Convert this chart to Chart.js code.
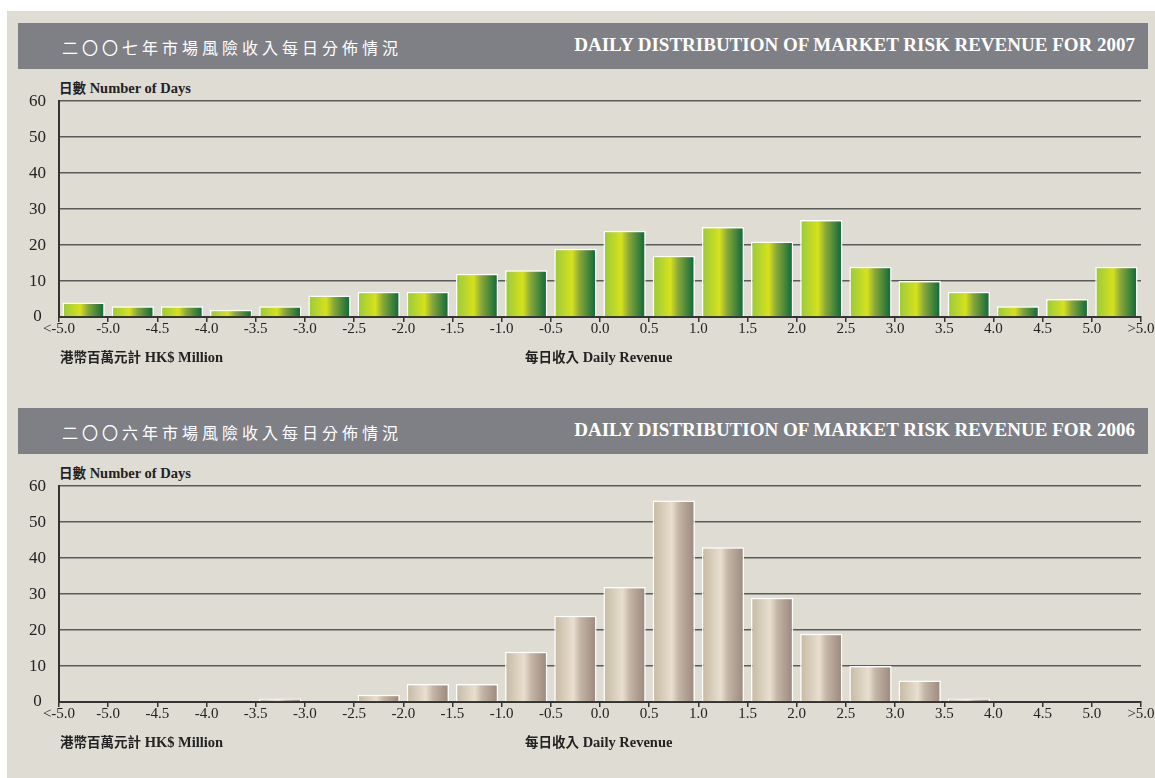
<!DOCTYPE html>
<html>
<head>
<meta charset="utf-8">
<script src="https://cdn.jsdelivr.net/npm/chart.js@4"></script>
<style>
  html, body { margin: 0; padding: 0; background: #fff; }
  body { width: 1155px; height: 778px; position: relative; overflow: hidden; }
  #panel { position: absolute; left: 7px; top: 11px; right: 0; bottom: 0; background: #dfdcd4; }
  .bar { position: absolute; left: 18px; width: 1130px; height: 46px; background: #7f8086; }
  .zh { position: absolute; left: 44px; top: 12px; color: #fff; font: 16px "Noto Sans CJK TC", sans-serif; letter-spacing: 4px; }
  .en { position: absolute; right: 13px; top: 11px; color: #fff; font: bold 19px "Liberation Serif", serif; }
  .lbl { position: absolute; color: #222; font: bold 14.5px "Liberation Serif", serif; white-space: nowrap; line-height: 17px; }
  .lbl span { font-family: "Noto Sans CJK TC", sans-serif; font-weight: bold; font-size: 13.5px; }
  .wrap { position: absolute; left: 0; width: 1155px; height: 265px; }
</style>
</head>
<body>
<div id="panel"></div>

<div class="bar" style="top:23px"><div class="zh">二〇〇七年市場風險收入每日分佈情況</div><div class="en">DAILY DISTRIBUTION OF MARKET RISK REVENUE FOR 2007</div></div>
<div class="lbl" style="left:59px;top:79px"><span>日數</span> Number of Days</div>
<div class="wrap" style="top:85px"><canvas id="chart2007"></canvas></div>
<div class="lbl" style="left:60px;top:348px"><span>港幣百萬元計</span> HK$ Million</div>
<div class="lbl" style="left:525px;top:348px"><span>每日收入</span> Daily Revenue</div>

<div class="bar" style="top:408px"><div class="zh">二〇〇六年市場風險收入每日分佈情況</div><div class="en">DAILY DISTRIBUTION OF MARKET RISK REVENUE FOR 2006</div></div>
<div class="lbl" style="left:59px;top:464px"><span>日數</span> Number of Days</div>
<div class="wrap" style="top:470px"><canvas id="chart2006"></canvas></div>
<div class="lbl" style="left:60px;top:733px"><span>港幣百萬元計</span> HK$ Million</div>
<div class="lbl" style="left:525px;top:733px"><span>每日收入</span> Daily Revenue</div>

<script>
// bins of daily revenue (HK$ million)
const categories = ['<-5.0', '-5.0~-4.5', '-4.5~-4.0', '-4.0~-3.5', '-3.5~-3.0', '-3.0~-2.5', '-2.5~-2.0',
  '-2.0~-1.5', '-1.5~-1.0', '-1.0~-0.5', '-0.5~0.0', '0.0~0.5', '0.5~1.0', '1.0~1.5', '1.5~2.0',
  '2.0~2.5', '2.5~3.0', '3.0~3.5', '3.5~4.0', '4.0~4.5', '4.5~5.0', '>5.0'];
// labels at the bin edges
const tickLabels = ['<-5.0', '-5.0', '-4.5', '-4.0', '-3.5', '-3.0', '-2.5', '-2.0', '-1.5', '-1.0', '-0.5',
  '0.0', '0.5', '1.0', '1.5', '2.0', '2.5', '3.0', '3.5', '4.0', '4.5', '5.0', '>5.0'];
const days2007 = [4, 3, 3, 2, 3, 6, 7, 7, 12, 13, 19, 24, 17, 25, 21, 27, 14, 10, 7, 3, 5, 14];
const days2006 = [0, 0, 0, 0, 1, 0, 2, 5, 5, 14, 24, 32, 56, 43, 29, 19, 10, 6, 1, 0, 0, 0];
const yTicks = [0, 10, 20, 30, 40, 50, 60];

const greenStops = [[0, '#98c93e'], [0.42, '#d6e11c'], [0.6, '#8aa83a'], [1, '#07663a']];
const tanStops = [[0, '#c5b9a3'], [0.45, '#e9dfcf'], [0.62, '#c4b5a5'], [1, '#9b877c']];

function barFill(stops){
    return function(c){
        const edge = c.chart.scales.edge;
        if (!edge || c.dataIndex === undefined) return stops[1][1];
        const step = edge.getPixelForValue(1) - edge.getPixelForValue(0);
        const cx = edge.getPixelForValue(c.dataIndex + 0.5);
        const w = step * 0.86;
        if (!isFinite(cx) || !isFinite(w) || w <= 0) return stops[1][1];
        const g = c.chart.ctx.createLinearGradient(cx - w / 2, 0, cx + w / 2, 0);
        stops.forEach(s => g.addColorStop(s[0], s[1]));
        return g;
    };
}

function makeChart(id, values, stops){
    const ctx = document.getElementById(id).getContext('2d');
    return new Chart(ctx, {
        type: 'bar',
        data: {
            labels: categories,
            datasets: [{
                data: values,
                backgroundColor: barFill(stops),
                borderColor: '#ffffff',
                borderWidth: 1.5,
                borderSkipped: 'bottom',
                barPercentage: 0.86,
                categoryPercentage: 1
            }]
        },
        options: {
            responsive: true,
            maintainAspectRatio: false,
            animation: false,
            layout: { padding: { top: 16, right: 14, left: 0, bottom: 0 } },
            plugins: { legend: { display: false }, tooltip: { enabled: false } },
            scales: {
                x: { display: false, offset: true },
                edge: {
                    type: 'linear', position: 'bottom', min: 0, max: tickLabels.length - 1,
                    offset: false,
                    afterBuildTicks: s => { s.ticks = tickLabels.map((t, i) => ({ value: i })); },
                    afterFit: s => { s.height = 33; },
                    grid: { offset: false, drawOnChartArea: false, drawTicks: true, tickLength: 5, color: '#333', lineWidth: 1.5 },
                    border: { display: true, color: '#333', width: 2 },
                    ticks: {
                        autoSkip: false, maxRotation: 0, padding: -2, color: '#222',
                        font: { family: 'Liberation Serif', size: 15 },
                        callback: (v, i) => tickLabels[i]
                    }
                },
                y: {
                    min: 0, max: 60,
                    afterBuildTicks: s => { s.ticks = yTicks.map(v => ({ value: v })); },
                    afterFit: s => { s.width = 59; },
                    grid: { color: '#5a5a5a', lineWidth: 1.5, drawTicks: true, tickLength: 7, tickColor: 'rgba(0,0,0,0)' },
                    border: { display: true, color: '#333', width: 2 },
                    ticks: {
                        color: '#222', padding: 6, crossAlign: 'center',
                        font: { family: 'Liberation Serif', size: 17 }
                    }
                }
            }
        }
    });
}

const chart2007 = makeChart('chart2007', days2007, greenStops);
const chart2006 = makeChart('chart2006', days2006, tanStops);
</script>
</body>
</html>
